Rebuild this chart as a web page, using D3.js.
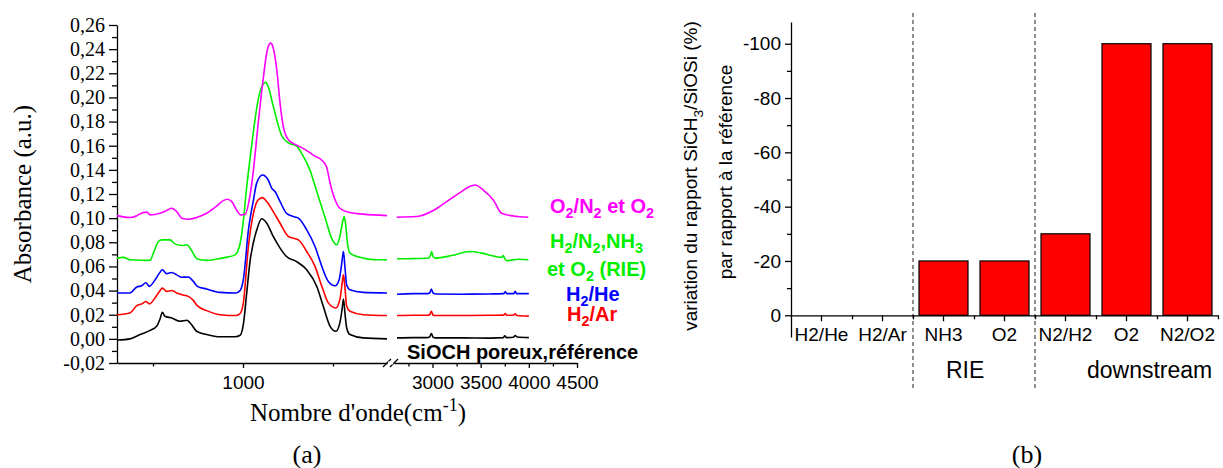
<!DOCTYPE html>
<html><head><meta charset="utf-8">
<script src="https://cdn.jsdelivr.net/npm/d3@7"></script>
<style>
body{margin:0;background:#fff}
svg{display:block}
text{white-space:pre}
</style>
</head><body>
<svg id="c" width="1223" height="468"></svg>
<script>
// ---------- (a) FTIR spectra: [wavenumber cm-1, absorbance] ----------
const refLow = [[650,-0.001],[686,0.0],[714,0.0036],[742,0.007],[760,0.0104],[769,0.016],[776,0.022],[783,0.0187],[802,0.0173],[825,0.0146],[844,0.0154],[857,0.0118],[871,0.0063],[899,0.0036],[936,0.0017],[978,0.0017],[992,0.003],[1001,0.012],[1010,0.037],[1019,0.063],[1038,0.09],[1052,0.0995],[1066,0.0958],[1084,0.0848],[1103,0.0752],[1121,0.0682],[1149,0.064],[1177,0.0572],[1205,0.0434],[1223,0.027],[1242,0.0104],[1258,0.0063],[1269,0.0132],[1275,0.024],[1279,0.033],[1283,0.022],[1288,0.009],[1297,0.0036],[1334,0.0008],[1400,0.0]];
const refHigh = [[2631,0.0008],[2800,0.001],[2940,0.001],[2970,0.0015],[2988,0.0045],[3005,0.0015],[3030,0.0008],[3300,0.0008],[3600,0.0006],[3735,0.001],[3750,0.0025],[3765,0.001],[3840,0.0013],[3858,0.0028],[3880,0.0015],[4000,0.001]];

const arLow = [[650,0.020],[686,0.0215],[705,0.0275],[719,0.029],[730,0.031],[740,0.029],[756,0.034],[768,0.0393],[776,0.042],[788,0.0393],[802,0.040],[816,0.038],[830,0.0366],[848,0.0352],[862,0.0319],[873,0.0275],[899,0.0234],[936,0.020],[981,0.0193],[992,0.021],[1001,0.0298],[1015,0.0765],[1029,0.104],[1042,0.115],[1054,0.117],[1066,0.1137],[1084,0.1054],[1103,0.0958],[1126,0.0848],[1154,0.082],[1177,0.0724],[1200,0.060],[1219,0.0435],[1237,0.0298],[1258,0.0256],[1269,0.0325],[1275,0.045],[1279,0.053],[1283,0.043],[1288,0.027],[1297,0.0228],[1334,0.020],[1400,0.0193]];
const arHigh = [[2631,0.0193],[2800,0.0195],[2950,0.0195],[2970,0.020],[2988,0.0228],[3005,0.0197],[3030,0.0193],[3300,0.0193],[3600,0.0195],[3740,0.0197],[3755,0.021],[3770,0.0195],[3845,0.0197],[3858,0.0208],[3875,0.0193],[4000,0.0188]];

const heLow = [[650,0.038],[686,0.038],[705,0.043],[719,0.044],[730,0.0465],[740,0.0435],[756,0.049],[768,0.0545],[776,0.0572],[788,0.054],[802,0.055],[816,0.053],[830,0.051],[848,0.0512],[862,0.0476],[873,0.0435],[899,0.0413],[936,0.0385],[981,0.038],[992,0.040],[1001,0.049],[1015,0.09],[1029,0.115],[1038,0.129],[1054,0.1357],[1070,0.1316],[1080,0.1247],[1089,0.122],[1103,0.1137],[1121,0.104],[1144,0.101],[1154,0.100],[1177,0.0903],[1200,0.0765],[1219,0.060],[1237,0.0476],[1256,0.044],[1267,0.049],[1274,0.062],[1279,0.0724],[1283,0.060],[1288,0.0445],[1297,0.0407],[1334,0.0385],[1400,0.038]];
const heHigh = [[2631,0.037],[2800,0.0375],[2950,0.0375],[2970,0.038],[2988,0.0413],[3005,0.038],[3030,0.0372],[3300,0.037],[3600,0.0372],[3740,0.0375],[3755,0.039],[3770,0.0375],[3845,0.0375],[3858,0.0395],[3872,0.0375],[4000,0.0375]];

const rieLow = [[650,0.0669],[667,0.0675],[686,0.0655],[742,0.065],[751,0.071],[765,0.0806],[774,0.082],[797,0.082],[811,0.0787],[830,0.0773],[844,0.0779],[857,0.0732],[873,0.0661],[899,0.065],[927,0.0661],[955,0.0677],[978,0.0696],[992,0.079],[1001,0.098],[1010,0.125],[1019,0.148],[1029,0.172],[1042,0.198],[1056,0.211],[1063,0.2125],[1070,0.209],[1080,0.1977],[1094,0.1811],[1107,0.1687],[1126,0.1624],[1149,0.1597],[1163,0.1536],[1186,0.1398],[1205,0.122],[1230,0.0985],[1246,0.0834],[1260,0.0779],[1269,0.0848],[1276,0.096],[1281,0.1013],[1285,0.095],[1290,0.080],[1297,0.071],[1334,0.0669],[1371,0.0655],[1400,0.0655]];
const rieHigh = [[2631,0.0663],[2800,0.0665],[2960,0.067],[2978,0.069],[2991,0.0724],[3002,0.069],[3026,0.0669],[3199,0.069],[3389,0.0724],[3511,0.071],[3649,0.0683],[3720,0.0675],[3735,0.069],[3750,0.0665],[3770,0.0648],[3891,0.066],[3995,0.0655]];

const o2Low = [[650,0.1021],[686,0.1005],[705,0.102],[712,0.1033],[733,0.105],[742,0.1027],[769,0.104],[788,0.1063],[802,0.1082],[816,0.1054],[830,0.100],[848,0.0991],[871,0.1005],[899,0.104],[927,0.110],[945,0.1145],[956,0.1157],[969,0.1137],[982,0.1068],[994,0.1027],[1006,0.1033],[1019,0.118],[1029,0.14],[1042,0.178],[1056,0.215],[1066,0.237],[1072,0.2435],[1077,0.245],[1084,0.241],[1094,0.2225],[1103,0.195],[1112,0.1756],[1126,0.165],[1149,0.1605],[1172,0.157],[1195,0.1522],[1219,0.148],[1232,0.1426],[1242,0.1289],[1256,0.115],[1269,0.1082],[1297,0.1046],[1334,0.1033],[1400,0.1021]];
const o2High = [[2628,0.1008],[2836,0.1013],[3008,0.1063],[3147,0.1137],[3285,0.1211],[3380,0.126],[3441,0.1275],[3527,0.1233],[3631,0.1151],[3718,0.104],[3839,0.1018],[3994,0.1008]];

const seriesNames = ["SiOCH poreux,référence","H_{2}/Ar","H_{2}/He","H_{2}/N_{2},NH_{3}|et O_{2} (RIE)","O_{2}/N_{2} et O_{2}"];
const seriesColors = ["#000000","#ff0000","#0000ff","#00ee00","#ff00ff"];
const seriesLow = [refLow, arLow, heLow, rieLow, o2Low];
const seriesHigh = [refHigh, arHigh, heHigh, rieHigh, o2High];

const absTicks = [-0.02,0.00,0.02,0.04,0.06,0.08,0.10,0.12,0.14,0.16,0.18,0.20,0.22,0.24,0.26];
const absMinor = [-0.01,0.01,0.03,0.05,0.07,0.09,0.11,0.13,0.15,0.17,0.19,0.21,0.23,0.25];
const wnTicksLow = [1000];
const wnMinorLow = [750,1250];
const wnTicksHigh = [3000,3500,4000,4500];
const wnMinorHigh = [2750,3250,3750,4250];

// ---------- (b) bar chart ----------
const categories = ["H2/He","H2/Ar","NH3","O2","N2/H2","O2","N2/O2"];
const variation = [0,0,-20,-20,-30,-100,-100];
const varTicks = [0,-20,-40,-60,-80,-100];
const varMinor = [-10,-30,-50,-70,-90];
const groupNames = ["RIE","downstream"];
const groupStart = [2,4];

// ---------- drawing ----------
const svg = d3.select("#c");
const SERIF = "'Liberation Serif','Times New Roman',serif";
const SANS = "'Liberation Sans',Arial,sans-serif";

function rich(t, s, fs, subShift){
  const sub = subShift===undefined ? 0.32 : subShift;
  const re = /([_^])\{([^}]*)\}/g; let last=0, m, shift=0;
  function add(txt, kind){
    const target = kind===1 ? sub*fs : kind===-1 ? -0.42*fs : 0;
    const ts = t.append("tspan").text(txt).attr("dy", target-shift);
    if(kind) ts.attr("font-size", fs*0.72);
    shift = target;
  }
  while((m=re.exec(s))){ if(m.index>last) add(s.slice(last,m.index),0); add(m[2], m[1]==="_"?1:-1); last=re.lastIndex; }
  if(last<s.length) add(s.slice(last),0);
}

const locale = d3.formatLocale({decimal:",",thousands:".",grouping:[3],currency:["",""],minus:"-"});
const fmtAbs = locale.format(".2f");

const xLow = d3.scaleLinear().domain([650,1400]).range([117,387]);
const xHigh = d3.scaleLinear().domain([2600,4500]).range([394,577]);
const yA = d3.scaleLinear().domain([-0.02,0.26]).range([363,25]);
const axisY0 = 363;

function styleAxis(g, fam, fs){
  g.selectAll("path,line").attr("stroke","#000").attr("stroke-width",1.3);
  g.selectAll("text").attr("font-family",fam).attr("font-size",fs).attr("fill","#000");
}

// y axis
svg.append("g").attr("transform","translate(117,0)")
  .call(d3.axisLeft(yA).tickValues(absTicks).tickFormat(fmtAbs).tickSize(8).tickSizeOuter(0).tickPadding(4))
  .call(g=>styleAxis(g,SERIF,20));
svg.append("g").attr("transform","translate(117,0)")
  .call(d3.axisLeft(yA).tickValues(absMinor).tickFormat("").tickSize(5).tickSizeOuter(0))
  .call(g=>{styleAxis(g,SERIF,20); g.select(".domain").remove();});

// x axes (broken)
svg.append("g").attr("transform",`translate(0,${axisY0})`)
  .call(d3.axisBottom(xLow).tickValues(wnTicksLow).tickFormat(d3.format("d")).tickSize(5).tickSizeOuter(0).tickPadding(8))
  .call(g=>styleAxis(g,SANS,19));
svg.append("g").attr("transform",`translate(0,${axisY0})`)
  .call(d3.axisBottom(xLow).tickValues(wnMinorLow).tickFormat("").tickSize(3.5).tickSizeOuter(0))
  .call(g=>{styleAxis(g,SANS,19); g.select(".domain").remove();});
svg.append("g").attr("transform",`translate(0,${axisY0})`)
  .call(d3.axisBottom(xHigh).tickValues(wnTicksHigh).tickFormat(d3.format("d")).tickSize(5).tickSizeOuter(0).tickPadding(8))
  .call(g=>styleAxis(g,SANS,19));
svg.append("g").attr("transform",`translate(0,${axisY0})`)
  .call(d3.axisBottom(xHigh).tickValues(wnMinorHigh).tickFormat("").tickSize(3.5).tickSizeOuter(0))
  .call(g=>{styleAxis(g,SANS,19); g.select(".domain").remove();});
// break marks
const brk = svg.append("g").attr("stroke","#000").attr("stroke-width",1.3);
[xLow.range()[1], xHigh.range()[0]].forEach(x=>{
  brk.append("line").attr("x1",x-4).attr("y1",axisY0+4).attr("x2",x+4).attr("y2",axisY0-4);
});
svg.append("rect").attr("x",xLow.range()[1]+1).attr("y",axisY0-1.5).attr("width",xHigh.range()[0]-xLow.range()[1]-2).attr("height",3).attr("fill","#fff");

// spectra
const lineLow = d3.line().x(d=>xLow(d[0])).y(d=>yA(d[1])).curve(d3.curveMonotoneX);
const lineHigh = d3.line().x(d=>xHigh(d[0])).y(d=>yA(d[1])).curve(d3.curveMonotoneX);
const spec = svg.append("g").attr("fill","none").attr("stroke-width",1.6).attr("stroke-linejoin","round");
seriesLow.forEach((s,i)=>{
  spec.append("path").attr("d",lineLow(s)).attr("stroke",seriesColors[i]);
  spec.append("path").attr("d",lineHigh(seriesHigh[i])).attr("stroke",seriesColors[i]);
});

// labels of spectra
const labelPos = [[407,359],[567,321],[566,301],[550,248],[550,213]];
seriesNames.forEach((n,i)=>{
  n.split("|").forEach((line,k)=>{
    const t = svg.append("text").attr("x",labelPos[i][0]-(k?3:0)).attr("y",labelPos[i][1]+k*28)
      .attr("font-family",SANS).attr("font-weight","bold").attr("font-size",20).attr("fill",seriesColors[i]);
    rich(t,line,20,0.24);
  });
});

// axis titles (a)
svg.append("text").attr("transform","translate(22,194) rotate(-90)").attr("text-anchor","middle")
  .attr("dy","0.35em").attr("font-family",SERIF).attr("font-size",25).text("Absorbance (a.u.)");
const tx = svg.append("text").attr("x",358).attr("y",421).attr("text-anchor","middle")
  .attr("font-family",SERIF).attr("font-size",25);
rich(tx,"Nombre d'onde(cm^{-1})",25);
svg.append("text").attr("x",307).attr("y",463).attr("text-anchor","middle")
  .attr("font-family",SERIF).attr("font-size",26).text("(a)");

// ---------- (b) ----------
const idx = categories.map((c,i)=>i);
const xB = d3.scaleBand().domain(idx).range([791,1218]).paddingInner(12/61).paddingOuter(6/61);
const xBl = d3.scaleLinear().domain([0,categories.length]).range([791,1218]);
const yB = d3.scaleLinear().domain([8,-108]).range([337,22]);
const y0 = yB(0);

// dashed separators
groupStart.forEach(g=>{
  svg.append("line").attr("x1",xBl(g)).attr("x2",xBl(g)).attr("y1",13).attr("y2",390)
    .attr("stroke","#444").attr("stroke-width",1.2).attr("stroke-dasharray","4,3");
});

// bars
svg.append("g").selectAll("rect").data(idx.filter(i=>variation[i]!==0)).join("rect")
  .attr("x",i=>xB(i)).attr("width",xB.bandwidth())
  .attr("y",i=>yB(variation[i])).attr("height",i=>y0-yB(variation[i]))
  .attr("fill","#ff0000").attr("stroke","#000").attr("stroke-width",1.2);

// y axis
svg.append("g").attr("transform","translate(791,0)")
  .call(d3.axisLeft(yB).tickValues(varTicks).tickFormat(d=>String(d)).tickSize(6).tickSizeOuter(0).tickPadding(4))
  .call(g=>styleAxis(g,SANS,19));
svg.append("g").attr("transform","translate(791,0)")
  .call(d3.axisLeft(yB).tickValues(varMinor).tickFormat("").tickSize(4).tickSizeOuter(0))
  .call(g=>{styleAxis(g,SANS,19); g.select(".domain").remove();});
// x axis at 0
svg.append("g").attr("transform",`translate(0,${y0})`)
  .call(d3.axisBottom(xB).tickFormat(i=>categories[i]).tickSize(6).tickSizeOuter(0).tickPadding(6))
  .call(g=>styleAxis(g,SANS,19));
svg.append("g").attr("transform",`translate(0,${y0})`)
  .call(d3.axisBottom(xBl).tickValues(d3.range(1,categories.length+1)).tickFormat("").tickSize(4).tickSizeOuter(0))
  .call(g=>{styleAxis(g,SANS,19); g.select(".domain").remove();});

// group labels
const groupOffset = [33, 52];
groupNames.forEach((n,i)=>{
  svg.append("text").attr("x",xBl(groupStart[i])+groupOffset[i]).attr("y",378)
    .attr("font-family",SANS).attr("font-size",23).text(n);
});

// y title (b)
const t1 = svg.append("text").attr("transform","translate(697,176) rotate(-90)").attr("text-anchor","middle")
  .attr("dy","0.35em").attr("font-family",SANS).attr("font-size",19);
rich(t1,"variation du rapport SiCH_{3}/SiOSi (%)",19);
svg.append("text").attr("transform","translate(725,172) rotate(-90)").attr("text-anchor","middle")
  .attr("dy","0.35em").attr("font-family",SANS).attr("font-size",19).text("par rapport à la référence");
svg.append("text").attr("x",1027).attr("y",463).attr("text-anchor","middle")
  .attr("font-family",SERIF).attr("font-size",26).text("(b)");
</script>
</body></html>
